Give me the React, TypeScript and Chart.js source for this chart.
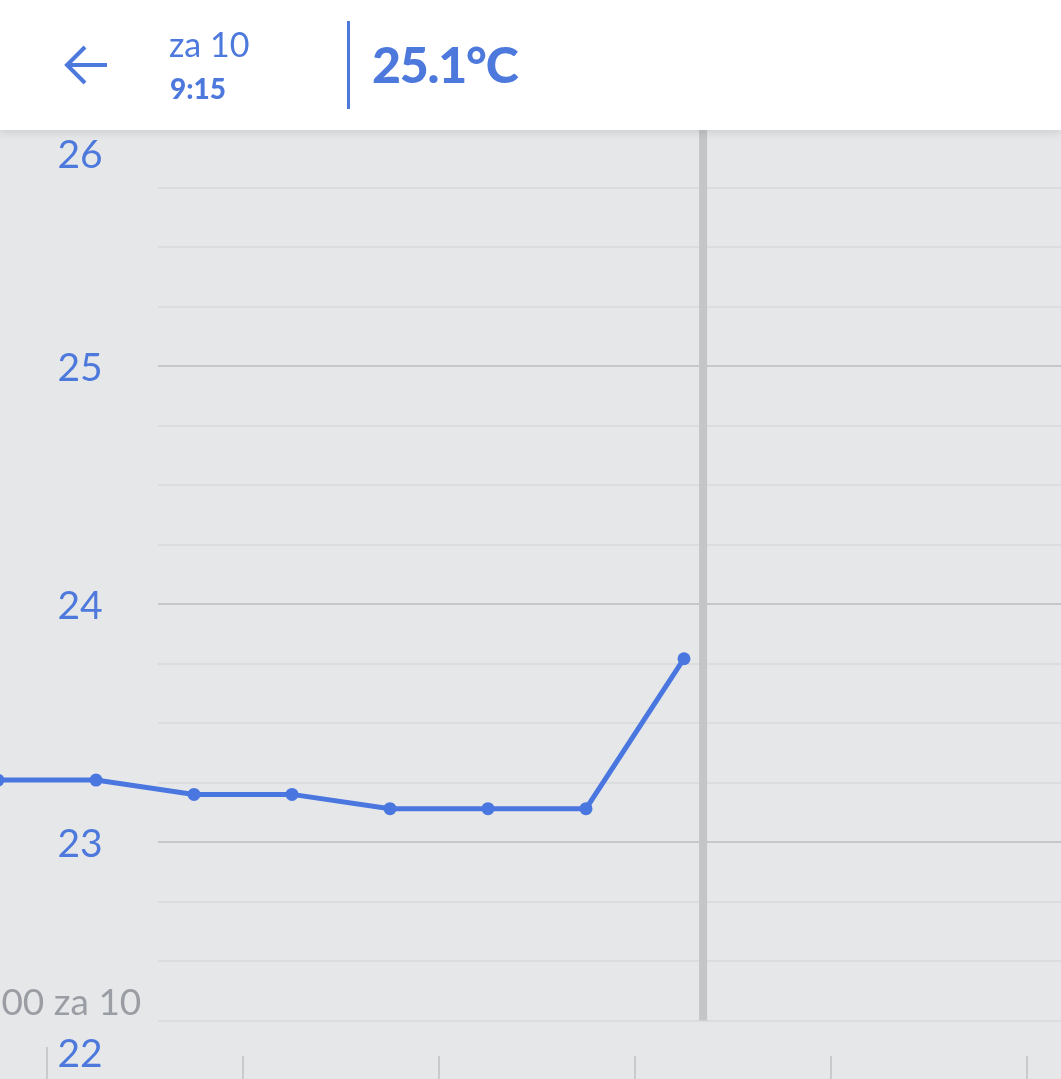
import React, { useEffect, useRef } from "react";
import { Chart, registerables } from "chart.js";

Chart.register(...registerables);

// ---- data ----
const pointTimes = ["5:45", "6:15", "6:45", "7:15", "7:45", "8:15", "8:45", "9:15"];
const temperatures = [23.26, 23.26, 23.2, 23.2, 23.14, 23.14, 23.14, 23.77];
const yTickValues = [22, 23, 24, 25, 26];
const xTickTimes = ["6:00", "7:00", "8:00", "9:00", "10:00", "11:00"];
const xDayLabelTime = "6:00";
const xDayLabel = "6:00 za 10";
const nowTime = "9:21";
const headerDay = "za 10";
const headerTime = "9:15";
const headerValue = "25.1°C";

const BLUE = "#4d78dc";
const FONT = "Lato, 'Open Sans', sans-serif";

const toMin = (t: string) => {
  const [h, m] = t.split(":").map(Number);
  return h * 60 + m;
};

const GRID_LEFT = 158;

const customPlugin = {
  id: "customDraw",
  beforeDatasetsDraw(chart: any) {
    const { ctx, chartArea, scales } = chart;
    const x = scales.x;
    const y = scales.y;
    ctx.save();
    ctx.fillStyle = "#e6e7e9";
    ctx.fillRect(0, 0, chart.width, chart.height);

    // horizontal grid
    for (let v = 22; v <= 26.001; v += 0.25) {
      const py = Math.round(y.getPixelForValue(v));
      const major = Math.abs(v - Math.round(v)) < 1e-6;
      ctx.fillStyle = major ? "#c6c7c9" : "#dbdcde";
      ctx.fillRect(GRID_LEFT, py - 1, chart.width - GRID_LEFT, 2);
    }

    // now line
    const nx = x.getPixelForValue(toMin(nowTime));
    const bottomNow = y.getPixelForValue(22.25);
    ctx.fillStyle = "#c4c5c7";
    ctx.fillRect(nx - 4.5, chartArea.top, 8, bottomNow - chartArea.top);

    // x ticks
    ctx.fillStyle = "#c9cacc";
    xTickTimes.forEach((t) => {
      const px = Math.round(x.getPixelForValue(toMin(t)));
      const long = t === xDayLabelTime;
      const top = long ? 1047 : 1056;
      ctx.fillRect(px - 1, top, 2, chart.height - top);
    });

    // x day label
    ctx.fillStyle = "#9a9ea4";
    ctx.font = `37px ${FONT}`;
    ctx.textAlign = "center";
    ctx.textBaseline = "middle";
    ctx.fillText(xDayLabel, x.getPixelForValue(toMin(xDayLabelTime)) + 9, 1003);

    // y labels
    ctx.fillStyle = BLUE;
    ctx.font = `39px ${FONT}`;
    ctx.textAlign = "center";
    ctx.textBaseline = "middle";
    yTickValues.forEach((v) => {
      let py = y.getPixelForValue(v) + 2;
      py = Math.max(chartArea.top + 27, Math.min(1054, py));
      ctx.fillText(String(v), 80, py);
    });
    ctx.restore();
  },
};

export default function App() {
  const canvasRef = useRef<HTMLCanvasElement | null>(null);

  useEffect(() => {
    document.body.style.margin = "0";
    const canvas = canvasRef.current!;
    const xMin = toMin("6:00") - (47 * 60) / 196;
    const xMax = toMin("6:00") + ((1061 - 47) * 60) / 196;
    const chart = new Chart(canvas, {
      type: "line",
      data: {
        datasets: [
          {
            data: pointTimes.map((t, i) => ({ x: toMin(t), y: temperatures[i] })),
            borderColor: "#4a76e0",
            backgroundColor: "#4a76e0",
            borderWidth: 5,
            pointRadius: 6.5,
            pointBackgroundColor: "#4a76e0",
            pointBorderWidth: 0,
            tension: 0,
            clip: false as any,
          },
        ],
      },
      options: {
        animation: false,
        responsive: false,
        maintainAspectRatio: false,
        layout: { autoPadding: false, padding: { top: 128, left: 0, right: 0, bottom: 0 } },
        plugins: { legend: { display: false }, tooltip: { enabled: false } },
        scales: {
          x: { type: "linear", min: xMin, max: xMax, display: false },
          y: { type: "linear", min: 22 + 1 / 238, max: 26, display: false },
        },
      },
      plugins: [customPlugin],
    });
    return () => chart.destroy();
  }, []);

  return (
    <div style={{ position: "fixed", left: 0, top: 0, width: 1061, height: 1079, overflow: "hidden", fontFamily: FONT, background: "#e6e7e9" }}>
      <canvas ref={canvasRef} width={1061} height={1079} style={{ position: "absolute", left: 0, top: 0 }} />
      <div
        style={{
          position: "absolute",
          left: 0,
          top: 0,
          width: 1061,
          height: 130,
          background: "#ffffff",
          boxShadow: "0 3px 8px rgba(0,0,0,0.10)",
        }}
      >
        <svg width={60} height={60} style={{ position: "absolute", left: 56, top: 35 }}>
          <line x1={11} y1={30} x2={51} y2={30} stroke={BLUE} strokeWidth={4} />
          <polyline points="29,12 11,30 29,48" fill="none" stroke={BLUE} strokeWidth={4} />
        </svg>
        <div style={{ position: "absolute", left: 169, top: 23, fontSize: 34, color: BLUE, lineHeight: "42px" }}>{headerDay}</div>
        <div style={{ position: "absolute", left: 170, top: 71, fontSize: 28, fontWeight: 900, color: BLUE, lineHeight: "34px" }}>{headerTime}</div>
        <div style={{ position: "absolute", left: 347, top: 21, width: 3, height: 88, background: BLUE }} />
        <div style={{ position: "absolute", left: 372, top: 34, fontSize: 50, fontWeight: 900, color: BLUE, lineHeight: "60px", letterSpacing: -1.2 }}>{headerValue}</div>
      </div>
    </div>
  );
}
